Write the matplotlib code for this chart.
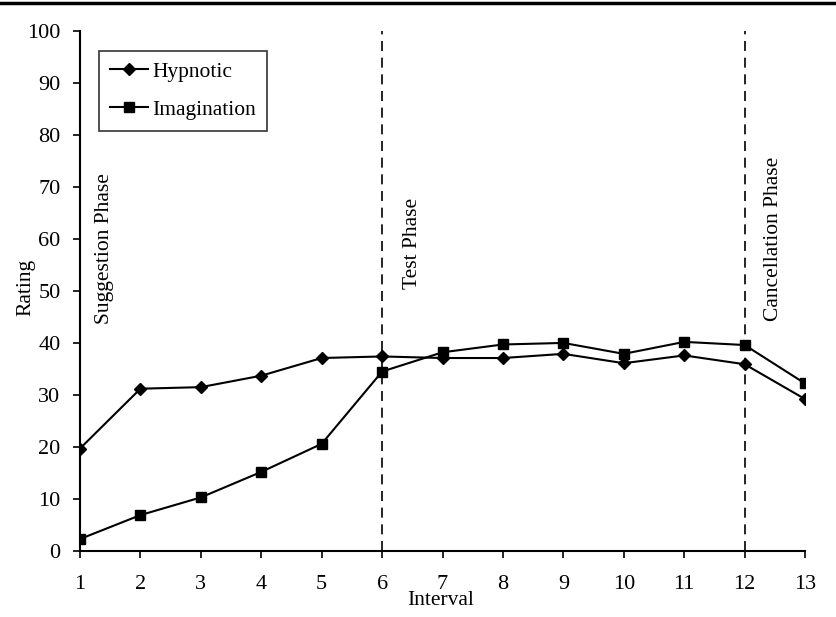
import matplotlib
matplotlib.use("Agg")
import matplotlib.pyplot as plt
from matplotlib.lines import Line2D

# data
interval = list(range(1, 14))
hypnotic = [19.7, 31.2, 31.5, 33.7, 37.1, 37.4, 37.1, 37.1, 37.9, 36.1, 37.6, 35.9, 29.2]
imagination = [2.3, 6.9, 10.3, 15.2, 20.6, 34.5, 38.2, 39.7, 40.0, 37.9, 40.2, 39.6, 32.2]
phase_lines = [6, 12]
phase_labels = ["Suggestion Phase", "Test Phase", "Cancellation Phase"]
phase_x = [1.41, 6.5, 12.47]
phase_top = [72.7, 67.9, 75.8]

plt.rcParams['font.family'] = ['Liberation Serif', 'DejaVu Serif']

fig = plt.figure(figsize=(8.36, 6.17), dpi=100)
ax = fig.add_axes([0.0957, 0.107, 0.8673, 0.843])

# thick rule on top of the page
fig.add_artist(Line2D([0, 1], [0.995, 0.995], color='black', lw=2.5, transform=fig.transFigure))

ax.plot(interval, hypnotic, color='black', lw=1.5, marker='D', ms=6, label='Hypnotic')
ax.plot(interval, imagination, color='black', lw=1.5, marker='s', ms=7, label='Imagination')

for xv in phase_lines:
    ax.axvline(xv, ymin=0, ymax=1, color='black', lw=1.2, ls=(0, (6, 4)))

for lab, xp, yp in zip(phase_labels, phase_x, phase_top):
    ax.text(xp, yp, lab, rotation=90, fontsize=15.5, ha='center', va='top')

ax.set_xlim(1, 13)
ax.set_ylim(0, 100)
ax.set_xticks(interval)
ax.set_yticks(range(0, 101, 10))
ax.tick_params(axis='both', labelsize=16, direction='out', length=5, width=1.2)
ax.tick_params(axis='x', pad=12)
ax.tick_params(axis='y', pad=9)
for s in ['top', 'right']:
    ax.spines[s].set_visible(False)
for s in ['left', 'bottom']:
    ax.spines[s].set_linewidth(1.5)

ax.set_xlabel('Interval', fontsize=15.5)
ax.xaxis.set_label_coords(0.498, -0.077)
ax.set_ylabel('Rating', fontsize=15.5)
ax.yaxis.set_label_coords(-0.062, 0.507)

leg = ax.legend(loc='upper left', bbox_to_anchor=(0.02, 0.97), fontsize=15.5, frameon=True,
                fancybox=False, edgecolor='black', handlelength=1.8, handletextpad=0.2,
                borderpad=0.5, borderaxespad=0.2, labelspacing=0.85)
leg.get_frame().set_linewidth(1.2)

fig.savefig('out.png', dpi=100)
